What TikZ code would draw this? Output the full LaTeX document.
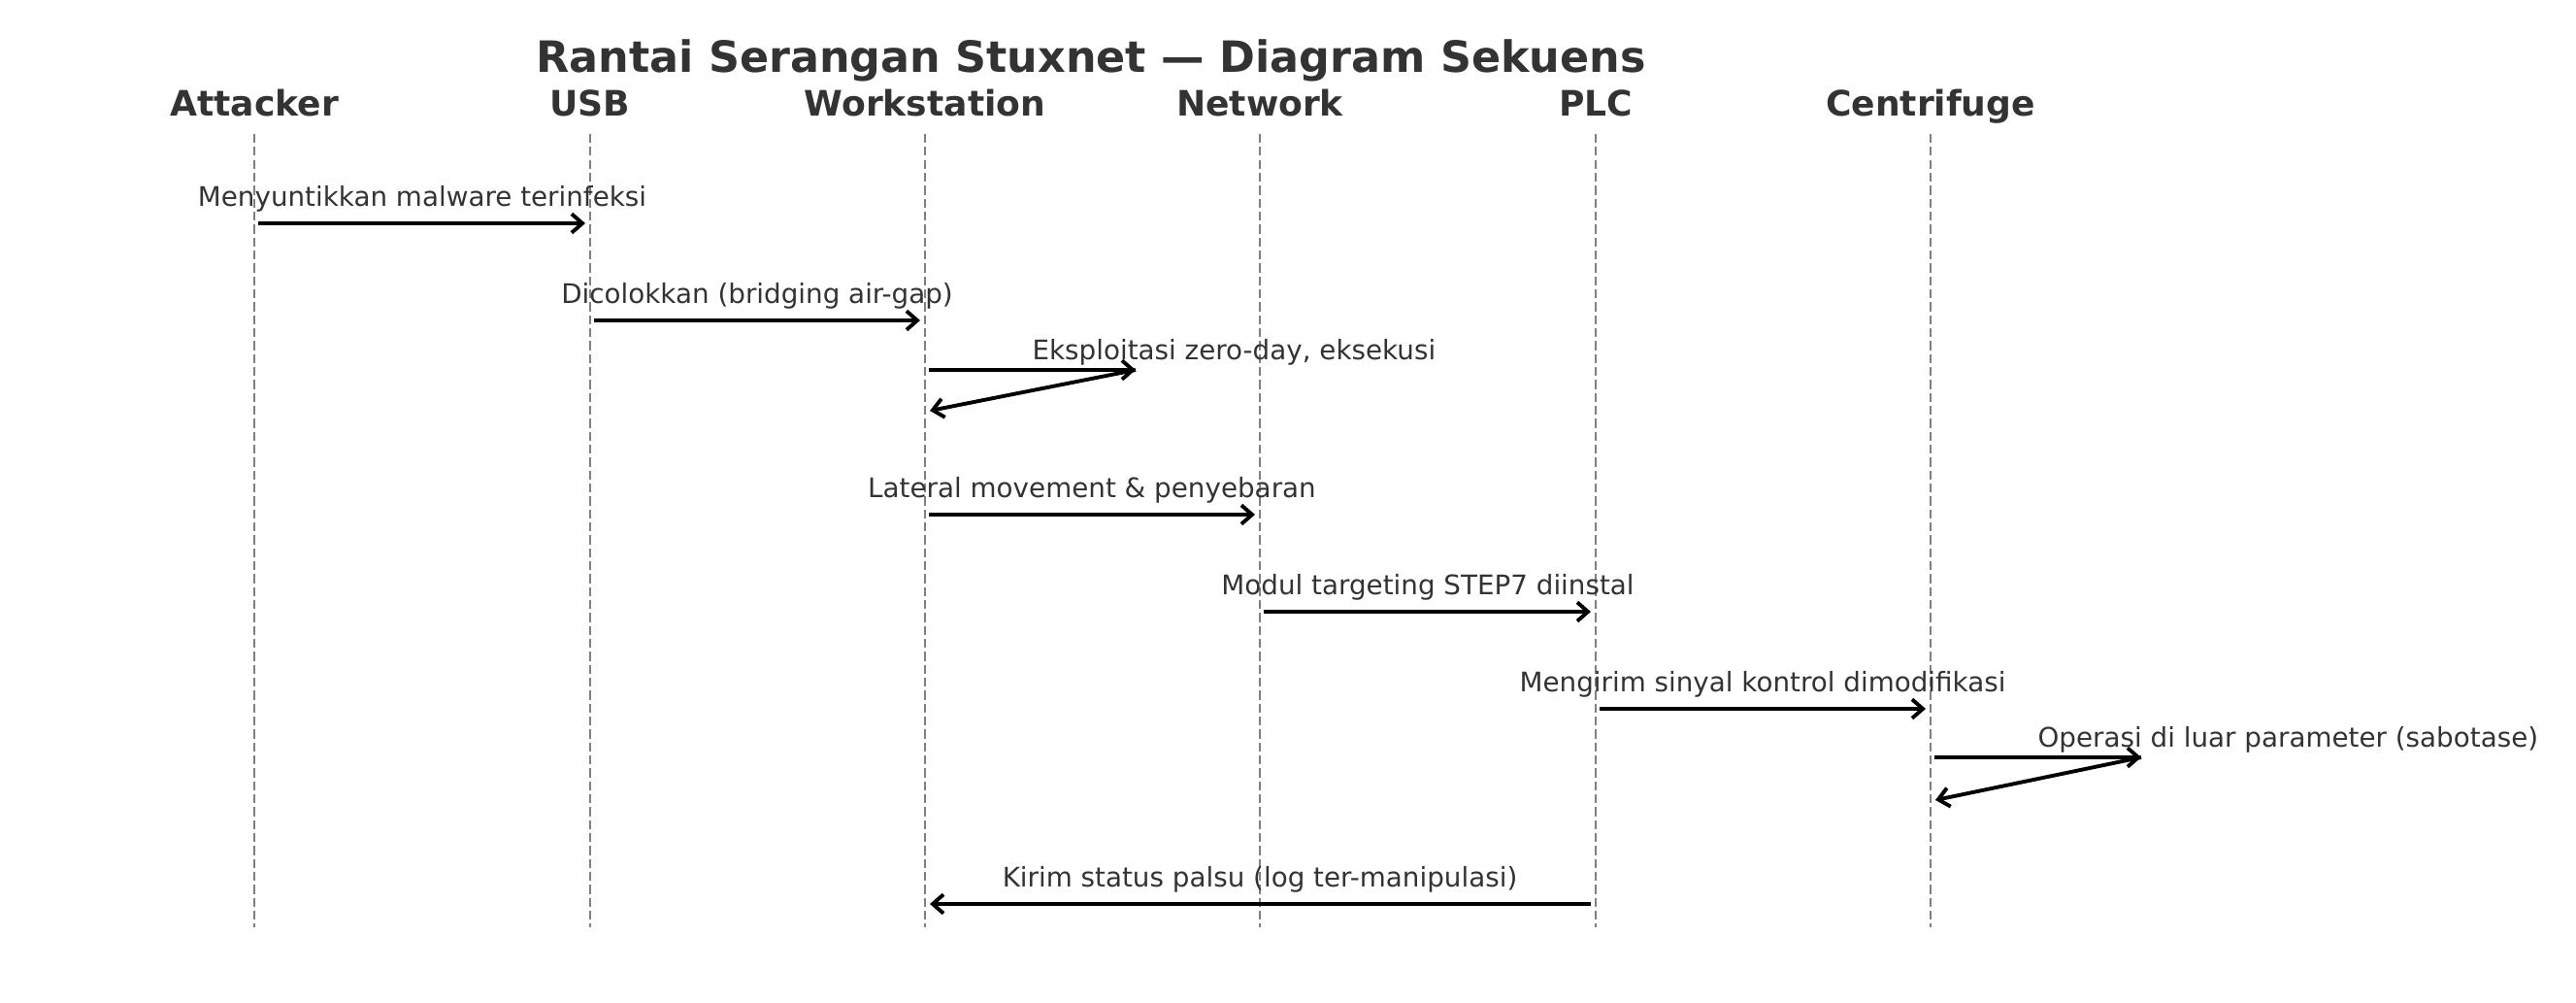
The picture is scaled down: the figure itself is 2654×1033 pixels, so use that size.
\documentclass[tikz,border=0pt]{standalone}
\usepackage{fontspec}
\setmainfont{DejaVu Sans}
\usetikzlibrary{arrows.meta}
\definecolor{txtgray}{HTML}{333333}
\begin{document}
\begin{tikzpicture}[
        x=0.36pt, y=-0.36pt,
        actor/.style={anchor=base, font=\fontsize{13}{15}\selectfont\bfseries, text=txtgray, inner sep=0pt},
        lbl/.style={anchor=base, font=\fontsize{10}{12}\selectfont, text=txtgray, inner sep=0pt},
        life/.style={gray, dash pattern=on 3.3pt off 1.5pt, line width=0.9pt},
        msg/.style={-{Straight Barb[length=4pt,width=7pt]}, line width=1.4pt}
    ]
        \useasboundingbox (0,0) rectangle (2654,1033);

        % Title
        \node[anchor=base, font=\fontsize{16}{19}\selectfont\bfseries, text=txtgray, inner sep=0pt] (title) at (1124,75) {Rantai Serangan Stuxnet — Diagram Sekuens};

        % Participants
        \node[actor] (attacker) at (262,119) {Attacker};
        \node[actor] (usb) at (608,119) {USB};
        \node[actor] (ws) at (953,119) {Workstation};
        \node[actor] (net) at (1298,119) {Network};
        \node[actor] (plc) at (1644,119) {PLC};
        \node[actor] (cf) at (1989,119) {Centrifuge};

        % Lifelines
        \draw[life] (262,138) -- (262,955);
        \draw[life] (608,138) -- (608,955);
        \draw[life] (953,138) -- (953,955);
        \draw[life] (1298,138) -- (1298,955);
        \draw[life] (1644,138) -- (1644,955);
        \draw[life] (1989,138) -- (1989,955);

        % Message end points
        \coordinate (m1s) at (266,230);  \coordinate (m1e) at (603,230);
        \coordinate (m2s) at (612,330);  \coordinate (m2e) at (948,330);
        \coordinate (m3s) at (957,381);  \coordinate (m3t) at (1170,381); \coordinate (m3e) at (958,423);
        \coordinate (m4s) at (957,530);  \coordinate (m4e) at (1293,530);
        \coordinate (m5s) at (1302,630); \coordinate (m5e) at (1639,630);
        \coordinate (m6s) at (1648,730); \coordinate (m6e) at (1984,730);
        \coordinate (m7s) at (1993,780); \coordinate (m7t) at (2206,780); \coordinate (m7e) at (1994,824);
        \coordinate (m8s) at (1639,931); \coordinate (m8e) at (958,931);

        % Messages
        \draw[msg] (m1s) -- (m1e);
        \node[lbl] (t1) at (435,212) {Menyuntikkan malware terinfeksi};
        \draw[msg] (m2s) -- (m2e);
        \node[lbl] (t2) at (780,312) {Dicolokkan (bridging air-gap)};
        \draw[msg] (m3s) -- (m3t);
        \draw[msg] (m3t) -- (m3e);
        \node[lbl, anchor=base west] (t3) at (1063,370) {Eksploitasi zero-day, eksekusi};
        \draw[msg] (m4s) -- (m4e);
        \node[lbl] (t4) at (1125,512) {Lateral movement \& penyebaran};
        \draw[msg] (m5s) -- (m5e);
        \node[lbl] (t5) at (1471,612) {Modul targeting STEP7 diinstal};
        \draw[msg] (m6s) -- (m6e);
        \node[lbl] (t6) at (1816,712) {Mengirim sinyal kontrol dimodifikasi};
        \draw[msg] (m7s) -- (m7t);
        \draw[msg] (m7t) -- (m7e);
        \node[lbl, anchor=base west] (t7) at (2099,769) {Operasi di luar parameter (sabotase)};
        \draw[msg] (m8s) -- (m8e);
        \node[lbl] (t8) at (1298,913) {Kirim status palsu (log ter-manipulasi)};

    \end{tikzpicture}
\end{document}
